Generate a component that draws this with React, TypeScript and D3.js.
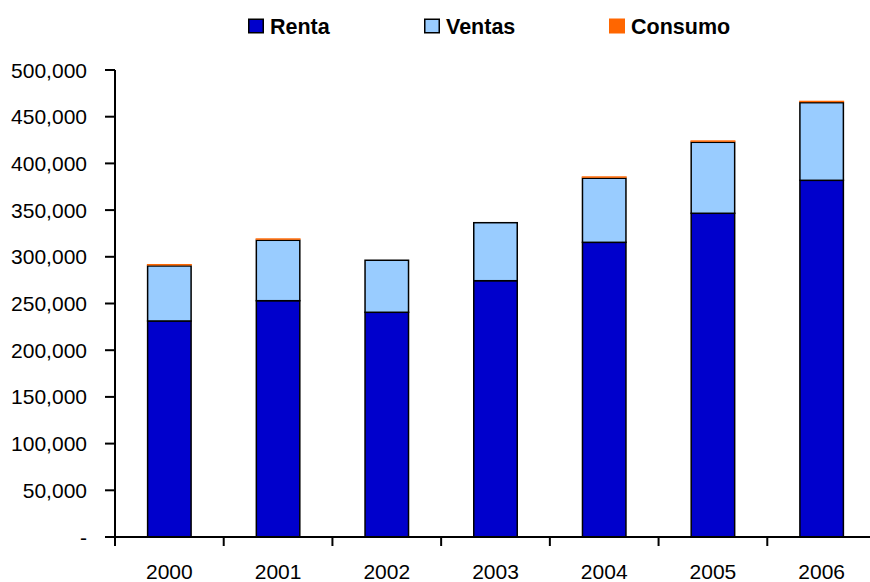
import React from "react";
import * as d3 from "d3";

const years = ["2000", "2001", "2002", "2003", "2004", "2005", "2006"];
const renta = [231300, 253000, 240600, 274400, 315500, 346600, 381900];
const ventas = [58900, 64700, 55700, 62100, 68600, 76000, 83100];
const consumo = [1300, 1300, 0, 0, 1300, 1300, 1300];
const yTicks = [0, 50000, 100000, 150000, 200000, 250000, 300000, 350000, 400000, 450000, 500000];
const seriesNames = ["Renta", "Ventas", "Consumo"];
const colors = ["#0000CC", "#99CCFF", "#FF6600"];

export default function App() {
  const W = 870, H = 582;
  const left = 115, right = 876, top = 70, bottom = 537;
  const x = d3.scaleBand<string>().domain(years).range([left, right]).paddingInner(0.6).paddingOuter(0.3);
  const xb = d3.scaleBand<string>().domain(years).range([left, right]);
  const y = d3.scaleLinear().domain([0, 500000]).range([bottom, top]);
  const fmt = d3.format(",");
  const font = "'Liberation Sans', Arial, Helvetica, sans-serif";

  const table = years.map((yr, i) => ({ year: yr, Renta: renta[i], Ventas: ventas[i], Consumo: consumo[i] }));
  const stack = d3.stack<any>().keys(seriesNames)(table);

  const legendX = [248, 424, 609];

  return (
    <svg width={W} height={H} style={{ position: "absolute", left: 0, top: 0, background: "#fff" }} fontFamily={font}>
      {/* legend */}
      {seriesNames.map((s, i) => (
        <g key={s}>
          <rect x={legendX[i] + (i === 2 ? 0 : 0.75)} y={i === 2 ? 18.5 : 19.25} width={i === 2 ? 16 : 14.5} height={i === 2 ? 15 : 13.5}
            fill={colors[i]} stroke={i === 2 ? "none" : "#000"} strokeWidth={1.5} />
          <text x={legendX[i] + 22} y={34} fontSize={21.5} fontWeight="bold" fill="#000">{s}</text>
        </g>
      ))}
      {/* bars */}
      {stack.map((layer, si) => (
        <g key={seriesNames[si]}>
          {layer.map((d, i) => {
            const h = y(d[0]) - y(d[1]);
            if (h <= 0) return null;
            const bx = x(years[i])!;
            if (si === 2) {
              return <rect key={i} x={bx - 0.75} y={y(d[1]) - 0.75} width={x.bandwidth() + 1.5} height={Math.max(h, 1.5)} fill={colors[si]} />;
            }
            return <rect key={i} x={bx} y={y(d[1])} width={x.bandwidth()} height={h} fill={colors[si]} stroke="#000" strokeWidth={1.5} />;
          })}
        </g>
      ))}
      {/* y axis */}
      <line x1={left} x2={left} y1={top} y2={bottom} stroke="#000" strokeWidth={2} />
      {yTicks.map((t) => (
        <g key={t}>
          <line x1={left - 10} x2={left} y1={y(t)} y2={y(t)} stroke="#000" strokeWidth={2} />
          <text x={87} y={y(t)} dy="0.36em" textAnchor="end" fontSize={21} fill="#000">{t === 0 ? "-" : fmt(t)}</text>
        </g>
      ))}
      {/* x axis */}
      <line x1={left} x2={right} y1={bottom} y2={bottom} stroke="#000" strokeWidth={2} />
      {years.map((yr) => (
        <g key={yr}>
          <line x1={xb(yr)!} x2={xb(yr)!} y1={bottom} y2={bottom + 9} stroke="#000" strokeWidth={2} />
          <text x={xb(yr)! + xb.bandwidth() / 2} y={579} textAnchor="middle" fontSize={21} fill="#000">{yr}</text>
        </g>
      ))}
    </svg>
  );
}
